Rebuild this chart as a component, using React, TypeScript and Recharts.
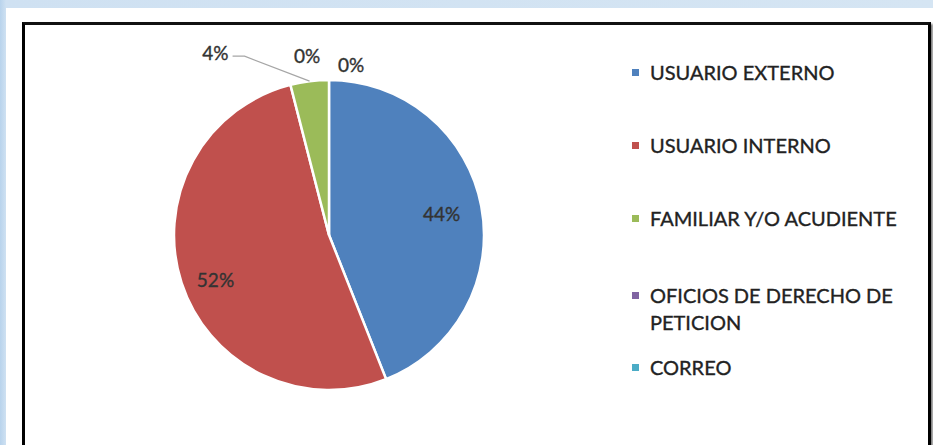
import React from "react";
import { PieChart, Pie, Cell, Legend } from "recharts";

const categories = [
  "USUARIO EXTERNO",
  "USUARIO INTERNO",
  "FAMILIAR Y/O ACUDIENTE",
  "OFICIOS DE DERECHO DE PETICION",
  "CORREO",
];
const values = [44, 52, 4, 0, 0];
const colors = ["#4f81bd", "#c0504d", "#9bbb59", "#8064a2", "#4bacc6"];

const data = categories.map((name, i) => ({ name, value: values[i] }));

const RAD = Math.PI / 180;
const FONT = "Lato, 'Open Sans', sans-serif";
const LABEL_COLOR = "#333333";

const renderLabel = (props: any) => {
  const { cx, cy, midAngle, outerRadius, percent, index } = props;
  const txt = `${Math.round(percent * 100)}%`;
  const cos = Math.cos(-midAngle * RAD);
  const sin = Math.sin(-midAngle * RAD);
  const tp = { fill: LABEL_COLOR, stroke: LABEL_COLOR, strokeWidth: 0.35, fontSize: 19, fontFamily: FONT };
  if (index < 2) {
    const r = outerRadius * (index === 0 ? 0.74 : 0.77);
    return (
      <text x={cx + r * cos} y={cy + r * sin + (index === 1 ? 8 : 0)} {...tp}
        textAnchor="middle" dominantBaseline="central">{txt}</text>
    );
  }
  const ax = cx + outerRadius * cos;
  const ay = cy + outerRadius * sin;
  if (index === 2) {
    const ex = ax - 65;
    const ey = ay - 25;
    return (
      <g>
        <polyline points={`${ax},${ay} ${ex},${ey} ${ex - 12},${ey}`} fill="none" stroke="#a6a6a6" strokeWidth={1.3} />
        <text x={ex - 16} y={ey - 4} {...tp} textAnchor="end" dominantBaseline="central">{txt}</text>
      </g>
    );
  }
  const off = index === 3 ? [-22, -25] : [22, -16];
  return (
    <text x={ax + off[0]} y={ay + off[1]} {...tp} textAnchor="middle" dominantBaseline="central">{txt}</text>
  );
};

const legendGaps = [46, 46, 50, 18, 0];

const LegendContent = () => (
  <div style={{ fontFamily: FONT, fontSize: 20, color: "#222222", lineHeight: "27px",
    WebkitTextStroke: "0.35px #222222" } as any}>
    {categories.map((c, i) => (
      <div key={c} style={{ display: "flex", alignItems: "flex-start", marginBottom: legendGaps[i] }}>
        <div style={{ width: 7, height: 7, background: colors[i], marginTop: 10, marginRight: 11, flexShrink: 0 }} />
        <div style={{ width: 270 }}>{c}</div>
      </div>
    ))}
  </div>
);

export default function App() {
  return (
    <div style={{ position: "fixed", left: 0, top: 0, width: 933, height: 445, overflow: "hidden",
      background: "linear-gradient(90deg, #b8d3ec 0px, #cfe1f2 6px, #d5e5f3 100%)" }}>
      <div style={{ position: "absolute", left: 6, top: 8, width: 927, height: 437, background: "#ffffff" }} />
      <div style={{ position: "absolute", left: 22, top: 22, width: 903, height: 440,
        border: "3px solid #000", borderTopColor: "#111", background: "#fff",
        boxShadow: "2px 2px 2px rgba(0,0,0,0.5)" }} />
      <div style={{ position: "absolute", left: 0, top: 0 }}>
        <PieChart width={933} height={445} margin={{ top: 0, right: 0, bottom: 0, left: 0 }}>
          <Pie data={data} dataKey="value" nameKey="name" cx={329} cy={235} outerRadius={155}
            startAngle={90} endAngle={-270} stroke="#ffffff" strokeWidth={2.5}
            isAnimationActive={false} labelLine={false} label={renderLabel}>
            {data.map((d, i) => (
              <Cell key={d.name} fill={colors[i]} />
            ))}
          </Pie>
          <Legend content={<LegendContent />} wrapperStyle={{ position: "absolute", left: 632, top: 59, width: 300 }} />
        </PieChart>
      </div>
    </div>
  );
}
